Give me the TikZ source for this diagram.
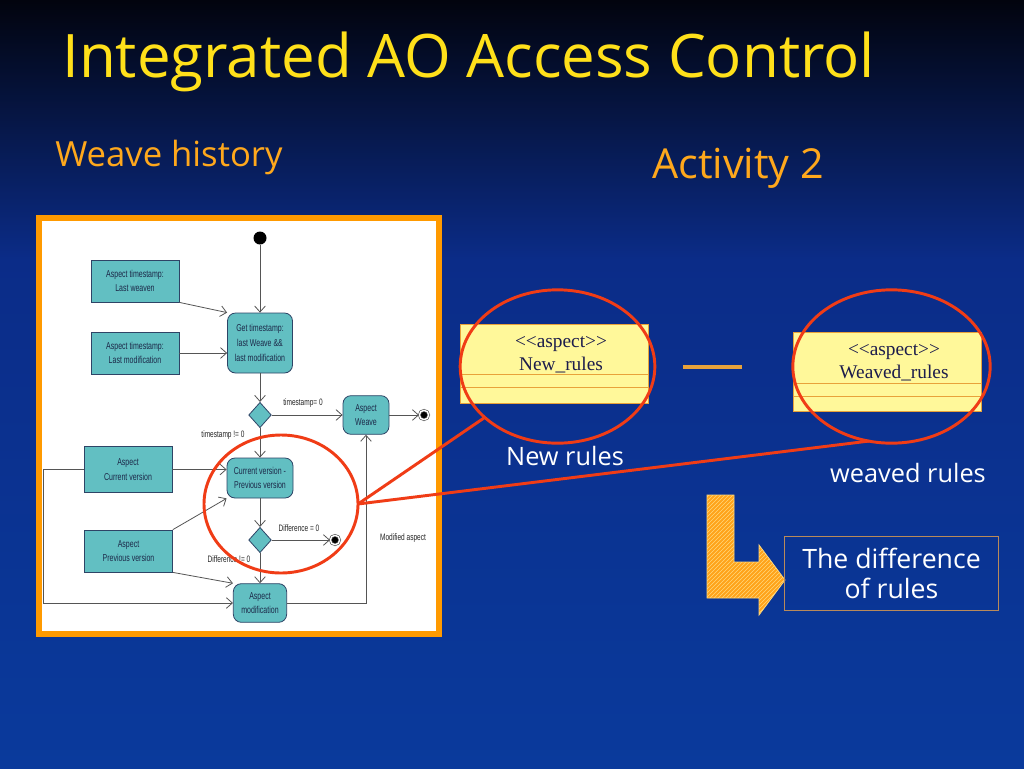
\documentclass[tikz,border=0pt]{standalone}
\usepackage{fontspec}
\setmainfont{Open Sans}
\newfontfamily\umlsans[FakeStretch=0.7]{Liberation Sans}
\newfontfamily\umlserif{Liberation Serif}
\usetikzlibrary{shapes.geometric,arrows.meta,patterns}
\definecolor{SlideTop}{HTML}{02040E}
\definecolor{SlideMid}{HTML}{0B2C88}
\definecolor{SlideLow}{HTML}{0A3A9C}
\definecolor{TitleYellow}{HTML}{FFE01A}
\definecolor{HeadOrange}{HTML}{FFA81C}
\definecolor{FrameOrange}{HTML}{FF9A00}
\definecolor{UmlTeal}{HTML}{62BFC2}
\definecolor{UmlEdge}{HTML}{2E4466}
\definecolor{UmlInk}{HTML}{1C2848}
\definecolor{UmlLine}{HTML}{555555}
\definecolor{RingRed}{HTML}{F03C16}
\definecolor{NoteYellow}{HTML}{FFF89A}
\definecolor{NoteLine}{HTML}{E8A23A}
\definecolor{NoteInk}{HTML}{1C1C4C}
\definecolor{ArrowOrange}{HTML}{FFA31A}
\definecolor{ArrowHatch}{HTML}{FFD77A}
\definecolor{DiffEdge}{HTML}{B98A5A}

\tikzset{
  databox/.style={rectangle, draw=UmlEdge, fill=UmlTeal, line width=0.6pt,
    minimum width=66pt, minimum height=31.5pt, inner sep=1pt, align=center,
    font=\umlsans\fontsize{7.5}{11}\selectfont, text=UmlInk},
  actbox/.style={databox, rounded corners=6pt},
  decision/.style={diamond, draw=UmlEdge, fill=UmlTeal, line width=0.6pt,
    minimum width=17pt, minimum height=19pt, inner sep=0pt},
  startdot/.style={circle, fill=black, minimum size=9.75pt, inner sep=0pt},
  enddot/.style={circle, fill=black, draw=UmlLine, double=white,
    double distance=1pt, line width=0.5pt, minimum size=7pt, inner sep=0pt},
  flow/.style={draw=UmlLine, line width=0.6pt, -{Straight Barb[length=4.5pt,width=8pt]}},
  guard/.style={font=\umlsans\fontsize{7}{9}\selectfont, text=black!85, inner sep=1pt},
  ring/.style={ellipse, draw=RingRed, line width=2.2pt, inner sep=0pt, outer sep=0pt},
  notebox/.style={rectangle, draw=NoteLine, fill=NoteYellow, line width=0.5pt,
    minimum width=141pt, minimum height=59pt, inner sep=0pt},
  notetext/.style={align=center, font=\umlserif\fontsize{14.5}{17}\selectfont, text=NoteInk},
  caption/.style={anchor=base, text=white, font=\fontsize{19}{23}\selectfont}
}

\begin{document}
\begin{tikzpicture}[x=0.75pt,y=-0.75pt]
\path[use as bounding box] (0,0) rectangle (1024,768);
% slide background
\shade[top color=SlideTop, bottom color=SlideMid] (0,0) rectangle (1024,260);
\shade[top color=SlideMid, bottom color=SlideLow] (0,259) rectangle (1024,768);

% headings
\node[anchor=base west, inner sep=0pt, text=TitleYellow, font=\fontsize{45}{52}\selectfont] (title) at (62,77) {Integrated AO Access Control};
\node[anchor=base west, inner sep=0pt, text=HeadOrange, font=\fontsize{26}{30}\selectfont] (history) at (55,166) {Weave history};
\node[anchor=base west, inner sep=0pt, text=HeadOrange, font=\fontsize{31}{36}\selectfont] (activity) at (652,178) {Activity 2};

% framed activity diagram
\draw[FrameOrange, line width=4.5pt, fill=white] (39,218) rectangle (438.5,633.5);

\node[startdot] (start) at (260,238) {};
\node[databox] (lastWeaven) at (135,281) {Aspect timestamp:\\Last weaven};
\node[databox] (lastMod) at (135,353) {Aspect timestamp:\\Last modification};
\node[actbox, minimum width=48.75pt, minimum height=45pt] (getStamp) at (260,343) {Get timestamp:\\last Weave \&\&\\last modification};
\node[decision] (check) at (260,415) {};
\node[actbox, minimum width=34.5pt, minimum height=29pt] (weave) at (366,415) {Aspect\\Weave};
\node[enddot] (weaveEnd) at (424,415) {};
\node[databox, minimum height=34pt] (curBox) at (128,469.5) {Aspect\\Current version};
\node[actbox, minimum width=49.5pt, minimum height=30pt] (diff) at (260,478) {Current version -\\Previous version};
\node[databox] (prevBox) at (128.5,551) {Aspect\\Previous version};
\node[decision] (check2) at (260,540) {};
\node[enddot] (diffEnd) at (335,540) {};
\node[actbox, minimum width=40pt, minimum height=29pt] (modify) at (260,603) {Aspect\\modification};
\coordinate (loopTop) at (43,469.5);
\coordinate (loopBot) at (43,603);

\draw[flow] (start) -- (getStamp);
\draw[flow] (lastWeaven.south east) -- (getStamp.north west);
\draw[flow] (lastMod.east) -- (lastMod.east -| getStamp.west);
\draw[flow] (getStamp) -- (check);
\draw[flow] (check.east) -- (weave.west);
\draw[flow] (weave.east) -- (weaveEnd);
\draw[flow] (check.south) -- (diff.north);
\draw[flow] (curBox.east) -- (curBox.east -| diff.west);
\draw[flow] (prevBox.north east) -- (diff.south west);
\draw[flow] (diff) -- (check2);
\draw[flow] (check2.east) -- (diffEnd);
\draw[flow] (check2.south) -- (modify.north);
\draw[flow] (prevBox.south east) -- (modify.north west);
\draw[flow] (curBox.west) -- (loopTop) -- (loopBot) -- (modify.west);
\draw[flow] (modify.east) -| (weave.south);

\node[guard] (stampZero) at (303,403) {timestamp= 0};
\node[guard] (stampNot) at (223,435) {timestamp != 0};
\node[guard] (diffZero) at (299,528) {Difference = 0};
\node[guard] (diffNot) at (229,559) {Difference != 0};
\node[guard] (modNote) at (403,538) {Modified aspect};

% the two aspects
\node[notebox] (newRules) at (554,363.5) {};
\draw[NoteLine] (460,374) -- (648,374);
\draw[NoteLine] (460,387) -- (648,387);
\node[notetext] (newName) at (561,355) {<\kern0pt<aspect>\kern0pt>\\New\_rules};
\node[notebox] (weavedRules) at (887,371.5) {};
\draw[NoteLine] (793,383) -- (981,383);
\draw[NoteLine] (793,396) -- (981,396);
\node[notetext] (weavedName) at (894,363) {<\kern0pt<aspect>\kern0pt>\\Weaved\_rules};
\draw[NoteLine, line width=3pt] (683,367) -- (742,367);

\node[caption] (newCap) at (565,465) {New rules};
\node[caption] (weavedCap) at (908,482) {weaved rules};

% highlight rings
\node[ring, minimum width=115.5pt, minimum height=103.5pt] (innerRing) at (281,504) {};
\node[ring, minimum width=146pt, minimum height=115pt] (newRing) at (557.5,366.5) {};
\node[ring, minimum width=148pt, minimum height=115pt] (weavedRing) at (891.5,366.5) {};
\draw[RingRed, line width=2.2pt] (innerRing.east) -- (newRing.215);
\draw[RingRed, line width=2.2pt] (innerRing.east) -- (weavedRing.253);

% result
\path[fill=ArrowOrange, draw=ArrowHatch, line width=0.6pt,
  postaction={pattern=north east lines, pattern color=ArrowHatch}]
  (707,495) -- (734,495) -- (734,562) -- (759,562) -- (759,545) -- (785,580)
  -- (759,615) -- (759,598) -- (707,598) -- cycle;
\node[draw=DiffEdge, line width=0.8pt, minimum width=160pt, minimum height=55pt,
  align=center, text=white, font=\fontsize{20}{23}\selectfont] (diffRules) at (891.5,573.5) {The difference\\of rules};
\end{tikzpicture}
\end{document}
